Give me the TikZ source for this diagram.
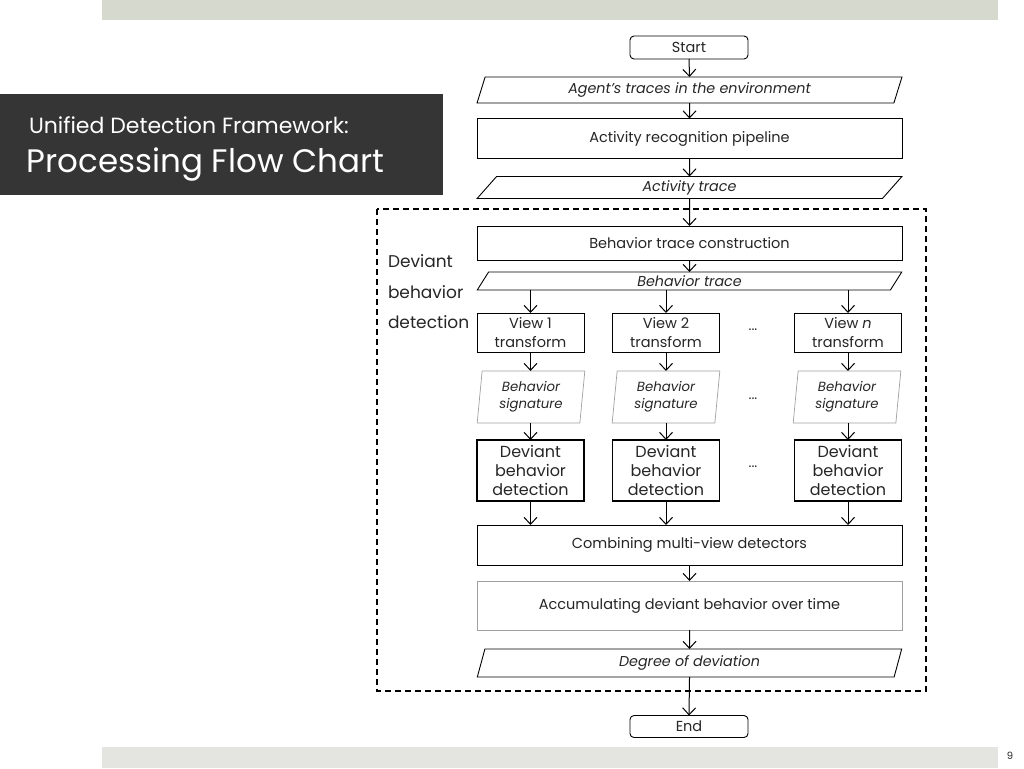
\documentclass[tikz,border=0pt]{standalone}
\usepackage{fontspec}
\setmainfont{Poppins}
\usetikzlibrary{arrows.meta,shapes.geometric}
\definecolor{topbar}{HTML}{D6D9CE}
\definecolor{botbar}{HTML}{E4E5E0}
\definecolor{titlebg}{HTML}{353535}
\definecolor{txt}{HTML}{262626}
\definecolor{lightedge}{HTML}{A0A0A0}
\begin{document}
\begin{tikzpicture}[x=1pt,y=-1pt,
  every node/.style={text=txt,inner sep=0pt,outer sep=0pt},
  norm/.style={font=\fontsize{14.5}{19}\selectfont},
  small/.style={font=\fontsize{13.3}{17}\selectfont\itshape},
  procbox/.style={norm,draw=black,line width=0.9pt,rectangle,align=center},
  termbox/.style={procbox,rounded corners=4pt,minimum width=118pt,minimum height=23pt},
  widebox/.style={procbox,minimum width=425pt},
  viewbox/.style={procbox,minimum width=107pt,minimum height=39pt},
  detbox/.style={procbox,line width=1.5pt,minimum width=107pt,minimum height=61pt,font=\fontsize{16}{19}\selectfont},
  iobox/.style={norm,font=\fontsize{14.3}{15}\selectfont\itshape,draw=black,line width=0.9pt,trapezium,trapezium stretches=true,
     minimum width=425pt},
  sigbox/.style={small,draw=lightedge,line width=0.7pt,trapezium,trapezium stretches=true,
     trapezium left angle=84,trapezium right angle=96,minimum width=108pt,minimum height=52pt,align=center},
  flow/.style={-{Straight Barb[length=7pt,width=13pt,line width=1pt]},line width=1pt,black},
  dashbox/.style={draw=black,line width=1.1pt,dash pattern=on 6pt off 4pt},
  dotsnode/.style={font=\fontsize{14}{15}\selectfont}
]
\useasboundingbox (0,0) rectangle (1024,768);
\fill[white] (0,0) rectangle (1024,768);
% slide decorations
\fill[topbar] (102,0) rectangle (998,20);
\fill[botbar] (102,747) rectangle (998,768);
\node[font=\fontsize{10}{12}\selectfont] (pg) at (1010,756) {9};
\fill[titlebg] (0,94) rectangle (443,195);
\node[anchor=base west,text=white,font=\fontsize{22}{24}\selectfont] (t1) at (29,133) {Unified Detection Framework:};
\node[anchor=base west,text=white,font=\fontsize{32.5}{34}\selectfont] (t2) at (27,172) {Processing Flow Chart};

% dashed region
\draw[dashbox] (377,209) rectangle (926,691);
\node[anchor=north west,align=left,font=\fontsize{17}{30.5}\selectfont] (lbl) at (388,255) {Deviant\\behavior\\detection};

% flow nodes
\node[termbox] (start) at (689,47.5) {Start};
\node[iobox,trapezium left angle=72,trapezium right angle=108,minimum height=26pt] (agent) at (689.5,90) {Agent’s traces in the environment};
\node[widebox,minimum height=40pt] (arp) at (689.5,138.5) {Activity recognition pipeline};
\node[iobox,trapezium left angle=72,trapezium right angle=108,minimum height=22pt] (atr) at (689.5,187.5) {Activity trace};
\node[widebox,minimum height=34pt] (btc) at (689.5,243) {Behavior trace construction};
\node[iobox,trapezium left angle=75,trapezium right angle=105,minimum height=18pt] (btr) at (689.5,281) {Behavior trace};

\node[viewbox] (v1) at (530.5,332.5) {View 1\\transform};
\node[viewbox] (v2) at (666,332.5) {View 2\\transform};
\node[viewbox] (vn) at (848,332.5) {View \textit{n}\\transform};
\node[dotsnode] (dots1) at (753,330) {...};

\node[sigbox] (s1) at (531,397) {Behavior\\signature};
\node[sigbox] (s2) at (666,397) {Behavior\\signature};
\node[sigbox] (sn) at (847,397) {Behavior\\signature};
\node[dotsnode] (dots2) at (753,399) {...};

\node[detbox] (d1) at (530.5,470.5) {Deviant\\behavior\\detection};
\node[detbox] (d2) at (666,470.5) {Deviant\\behavior\\detection};
\node[detbox] (dn) at (848,470.5) {Deviant\\behavior\\detection};
\node[dotsnode] (dots3) at (753,467) {...};

\node[widebox,minimum height=40pt] (cmb) at (689.5,545) {Combining multi-view detectors};
\node[widebox,draw=lightedge,line width=0.7pt,minimum height=49pt] (acc) at (689.5,605.5) {Accumulating deviant behavior over time};
\node[iobox,trapezium left angle=80,trapezium right angle=100,minimum height=28pt] (deg) at (689.5,663) {Degree of deviation};
\node[termbox,minimum height=22pt] (end) at (689,726.5) {End};

% connectors
\draw[flow] (start.south) -- (agent.north);
\draw[flow] (agent.south) -- (arp.north);
\draw[flow] (arp.south) -- (atr.north);
\draw[flow] (atr.south) -- (btc.north);
\draw[flow] (btc.south) -- (btr.north);
\draw[flow] (btr.south -| v1.north) -- (v1.north);
\draw[flow] (btr.south -| v2.north) -- (v2.north);
\draw[flow] (btr.south -| vn.north) -- (vn.north);
\draw[flow] (v1.south) -- (v1.south |- s1.north);
\draw[flow] (v2.south) -- (v2.south |- s2.north);
\draw[flow] (vn.south) -- (vn.south |- sn.north);
\draw[flow] (v1.south |- s1.south) -- (d1.north);
\draw[flow] (v2.south |- s2.south) -- (d2.north);
\draw[flow] (vn.south |- sn.south) -- (dn.north);
\draw[flow] (d1.south) -- (d1.south |- cmb.north);
\draw[flow] (d2.south) -- (d2.south |- cmb.north);
\draw[flow] (dn.south) -- (dn.south |- cmb.north);
\draw[flow] (cmb.south) -- (acc.north);
\draw[flow] (acc.south) -- (deg.north);
\draw[flow] (deg.south) -- (end.north);
\end{tikzpicture}
\end{document}
